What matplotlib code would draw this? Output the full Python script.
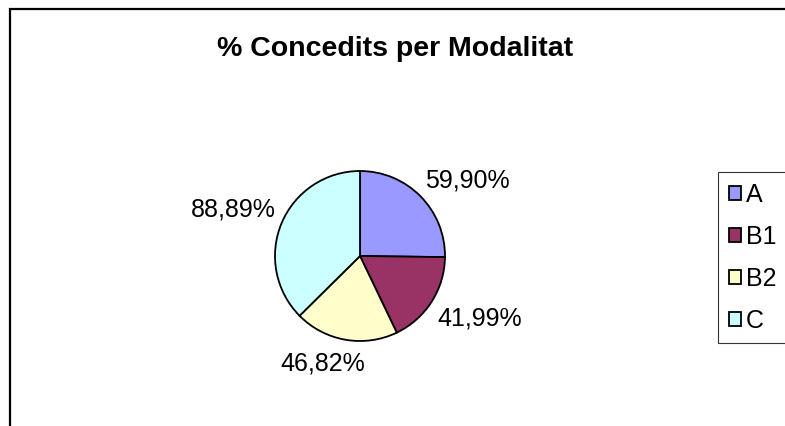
import matplotlib
matplotlib.use('Agg')
import matplotlib.pyplot as plt
import matplotlib.patches as mpatches
import numpy as np

# data
categories = ['A', 'B1', 'B2', 'C']
percent_values = [59.90, 41.99, 46.82, 88.89]
value_labels = ['59,90%', '41,99%', '46,82%', '88,89%']
colors = ['#9999FF', '#993366', '#FFFFCC', '#CCFFFF']
title = '% Concedits per Modalitat'

W, H = 785, 427


def main():
    plt.rcParams['font.family'] = ['Liberation Sans', 'DejaVu Sans']
    fig = plt.figure(figsize=(W / 100, H / 100), dpi=100)

    # outer chart frame (cut by right and bottom edge)
    frame = mpatches.Rectangle((10 / W, -0.1), 1.2, 1.1 - 10 / H,
                               transform=fig.transFigure, fill=False,
                               edgecolor='black', lw=1.6, clip_on=False)
    fig.patches.append(frame)

    fig.text(395 / W, 1 - 49 / H, title, ha='center', va='center',
             fontsize=20.5, fontweight='bold')

    # pie axes: center (360, 257), radius 85 px
    cx, cy, r = 360, 257, 85
    ax = fig.add_axes([(cx - r) / W, (H - cy - r) / H, 2 * r / W, 2 * r / H])
    wedges, _ = ax.pie(percent_values, colors=colors, startangle=90,
                       counterclock=False, radius=1.0,
                       wedgeprops=dict(edgecolor='black', linewidth=1.3))
    ax.set_xlim(-1, 1)
    ax.set_ylim(-1, 1)
    ax.set_aspect('equal')
    ax.axis('off')

    for w, lab in zip(wedges, value_labels):
        mid = np.deg2rad((w.theta1 + w.theta2) / 2)
        c, s = np.cos(mid), np.sin(mid)
        ha = 'left' if c > 0.3 else ('right' if c < -0.3 else 'center')
        va = 'bottom' if s > 0.3 else ('top' if s < -0.3 else 'center')
        # labels near the bottom sit a bit more to the left in the original
        dx = -0.25 if ha == 'center' else 0.0
        ax.text(1.08 * c + dx, 1.08 * s - (0.05 if ha == 'center' else 0),
                lab, ha=ha, va=va, fontsize=18, clip_on=False)

    handles = [mpatches.Patch(facecolor=col, edgecolor='black', lw=1.3)
               for col in colors]
    leg = fig.legend(handles, categories, loc='upper left',
                     bbox_to_anchor=(718 / W, 1 - 173 / H),
                     fontsize=18, frameon=True, fancybox=False,
                     borderaxespad=0, borderpad=0.42, labelspacing=0.72,
                     handlelength=0.5, handleheight=0.5, handletextpad=0.2)
    leg.get_frame().set_edgecolor('black')
    leg.get_frame().set_linewidth(0.8)

    fig.savefig('out.png', dpi=100)


if __name__ == '__main__':
    main()
